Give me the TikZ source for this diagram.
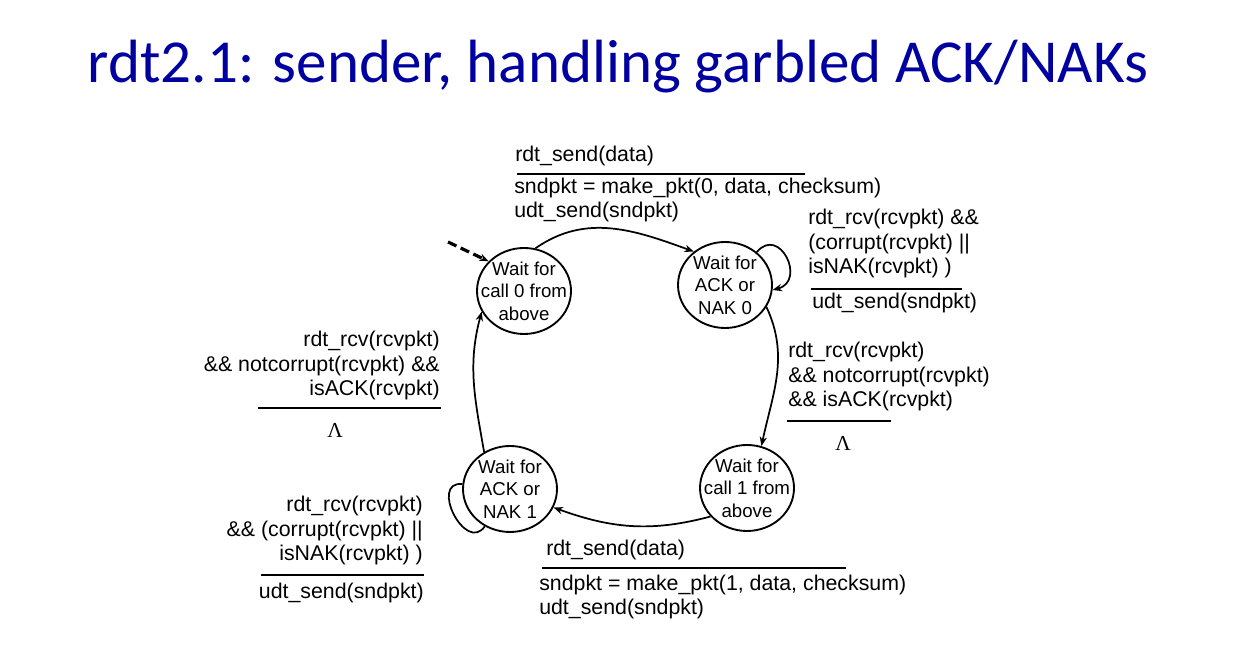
\documentclass[tikz,border=0pt]{standalone}
\usepackage{fontspec}
\setmainfont{Liberation Sans}
\newfontfamily\titlefont{Carlito}
\newfontfamily\lamfont{Liberation Serif}
\usetikzlibrary{shapes.geometric, arrows.meta}
\definecolor{titleblue}{RGB}{0,0,160}

\begin{document}
\begin{tikzpicture}[x=0.75pt, y=0.75pt, >={Stealth[length=7pt, width=5.5pt]},
  state/.style={ellipse, draw, line width=1.4pt, minimum width=70.5pt, minimum height=64.5pt,
    inner sep=-12pt, align=center, font=\fontsize{14}{16.9}\selectfont},
  lbl/.style={inner sep=0pt, font=\fontsize{16}{18.4}\selectfont},
  rule/.style={line width=2.2pt},
  edge/.style={->, line width=1.3pt}]
\useasboundingbox (0,0) rectangle (1259,666);
\node [anchor=base, text=titleblue, font=\titlefont\fontsize{45.8}{50}\selectfont] (title) at (618,583) {rdt2.1: sender, handling garbled ACK/NAKs};

% states
\node [state] (s0) at (524,375) {Wait for\\call 0 from\\above};
\node [state] (s1) at (725,381) {Wait for\\ACK or\\NAK 0};
\node [state] (s2) at (747,178) {Wait for\\call 1 from\\above};
\node [state] (s3) at (510,177) {Wait for\\ACK or\\NAK 1};

% transitions
\coordinate (init) at (448,424);
\draw [->, line width=2.4pt, dash pattern=on 7pt off 3.5pt] (init) -- (s0.140);
\draw [edge] (s0.75) to[out=35, in=160] (s1.133);
\draw [edge] (s1.46) to[out=50, in=15, looseness=2.2] (s1.-6);
\draw [edge] (s1.-28) to[out=-65, in=78] (s2.71);
\draw [edge] (s2.218) to[out=195, in=-20] (s3.-23);
\draw [line width=1.3pt] (s3.174) to[out=175, in=235, looseness=1.8] (s3.236);
\draw [edge] (s3.125) to[out=100, in=255] (s0.206);

% top
\node [lbl, anchor=base west] (snd0) at (515,504) {rdt\_send(data)};
\draw [rule] (517,492) -- (805,492);
\node [lbl, anchor=base west, align=left] (act0) at (514,448) {sndpkt = make\_pkt(0, data, checksum)\\udt\_send(sndpkt)};

% loop on s1
\node [lbl, anchor=base west, align=left] (nak0) at (808,392) {rdt\_rcv(rcvpkt) \&\&\\(corrupt(rcvpkt) ||\\isNAK(rcvpkt) )};
\draw [rule] (811,377) -- (962,377);
\node [lbl, anchor=base west] (resend0) at (812,357) {udt\_send(sndpkt)};

% s1 to s2
\node [lbl, anchor=base west, align=left] (ack0) at (788,259) {rdt\_rcv(rcvpkt)\\\&\& notcorrupt(rcvpkt)\\\&\& isACK(rcvpkt)};
\draw [rule] (787,245) -- (891,245);
\node [lbl, font=\lamfont\fontsize{16}{18}\selectfont] (lam0) at (843,223) {Λ};

% s3 to s0
\node [lbl, anchor=base east, align=right] (ack1) at (440,270) {rdt\_rcv(rcvpkt)\\\&\& notcorrupt(rcvpkt) \&\&\\isACK(rcvpkt)};
\draw [rule] (258,258) -- (441,258);
\node [lbl, font=\lamfont\fontsize{16}{18}\selectfont] (lam1) at (335,236) {Λ};

% loop on s3
\node [lbl, anchor=base east, align=right] (nak1) at (423,105) {rdt\_rcv(rcvpkt)\\\&\& (corrupt(rcvpkt) ||\\isNAK(rcvpkt) )};
\draw [rule] (261,91) -- (424,91);
\node [lbl, anchor=base east] (resend1) at (424,67) {udt\_send(sndpkt)};

% bottom
\node [lbl, anchor=base west] (snd1) at (546,110) {rdt\_send(data)};
\draw [rule] (542,98) -- (846,98);
\node [lbl, anchor=base west, align=left] (act1) at (539,51) {sndpkt = make\_pkt(1, data, checksum)\\udt\_send(sndpkt)};
\end{tikzpicture}
\end{document}
